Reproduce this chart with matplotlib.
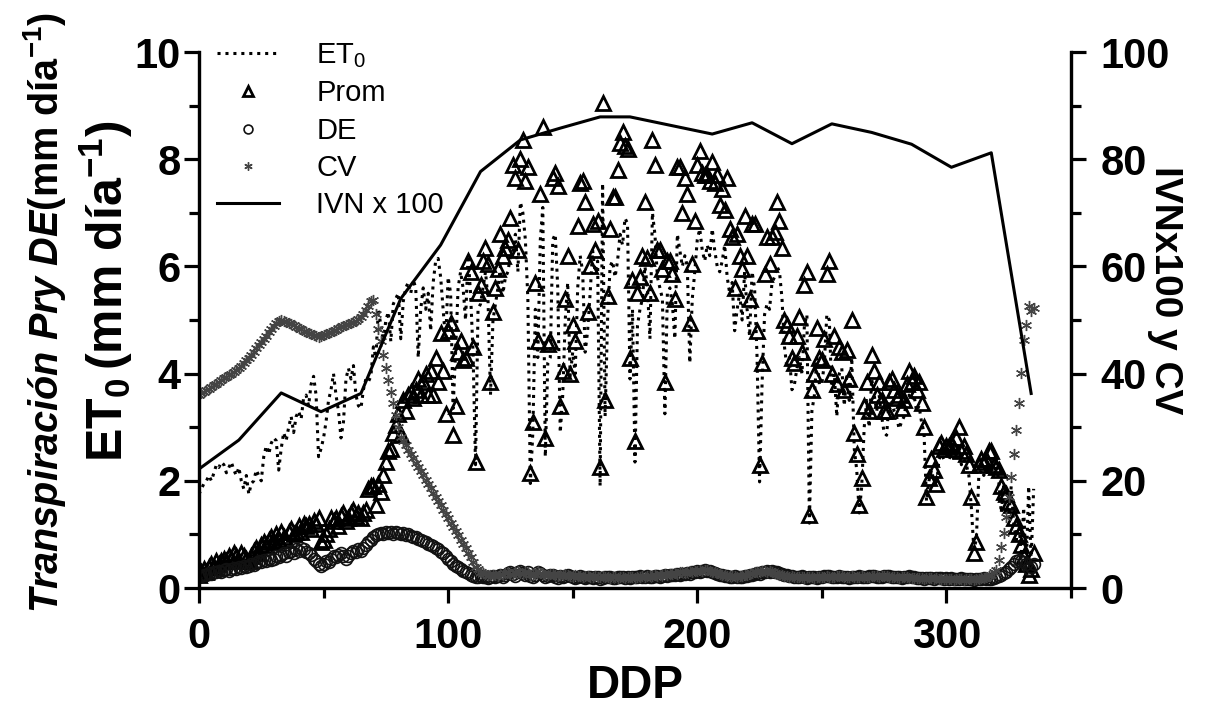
import numpy as np
import matplotlib.pyplot as plt

plt.rcParams['font.family'] = ['Liberation Sans', 'DejaVu Sans']
plt.rcParams['mathtext.fontset'] = 'custom'
plt.rcParams['mathtext.rm'] = 'Liberation Sans'
plt.rcParams['mathtext.it'] = 'Liberation Sans:italic'
plt.rcParams['mathtext.bf'] = 'Liberation Sans:bold'
plt.rcParams['mathtext.bfit'] = 'Liberation Sans:italic:bold'

# dias despues de poda (DDP), un valor por dia
days = np.arange(336)

# ET0 (mm dia-1)
et0 = [
    1.75, 1.85, 1.95, 2.0, 2.1, 2.0, 2.15, 2.3, 2.25, 2.35,
    2.3, 2.15, 2.25, 2.35, 2.2, 2.1, 2.25, 2.0, 1.85, 2.1,
    1.75, 1.95, 2.0, 2.2, 2.1, 2.0, 2.45, 2.65, 2.5, 2.7,
    2.8, 2.75, 2.2, 2.6, 2.9, 2.75, 3.0, 3.2, 2.9, 3.2,
    3.3, 3.15, 3.55, 3.6, 3.4, 3.8, 3.95, 3.6, 2.45, 2.6,
    2.8, 3.1, 3.5, 3.7, 4.0, 3.6, 3.3, 2.8, 3.1, 3.9,
    4.1, 3.9, 4.15, 3.6, 3.4, 3.35, 3.7, 3.9, 3.85, 3.95,
    4.5, 4.3, 5.2, 4.9, 4.6, 5.0, 5.15, 4.6, 5.3, 5.4,
    5.5, 4.65, 5.35, 5.6, 5.7, 5.5, 5.75, 5.6, 4.3, 5.2,
    5.6, 5.2, 5.5, 4.8, 5.7, 6.1, 6.15, 5.8, 5.2, 4.6,
    5.8, 5.5, 3.35, 4.4, 5.6, 5.9, 5.6, 5.0, 6.2, 5.5,
    4.4, 2.3, 5.2, 5.3, 5.6, 5.9, 5.4, 3.6, 5.0, 5.3,
    5.6, 6.0, 5.5, 5.8, 5.9, 6.2, 6.3, 6.6, 5.9, 7.2,
    7.0, 6.5, 5.4, 1.95, 2.9, 5.2, 4.3, 6.5, 7.1, 2.45,
    4.2, 4.3, 6.5, 6.6, 5.6, 2.9, 3.6, 5.0, 5.7, 3.95,
    4.4, 4.0, 5.6, 6.2, 5.9, 4.4, 4.8, 5.5, 6.3, 5.9,
    6.1, 1.9, 7.55, 3.2, 5.0, 6.0, 6.1, 5.8, 6.1, 6.6,
    6.4, 6.9, 6.8, 3.9, 5.2, 2.35, 4.9, 5.2, 5.4, 6.0,
    5.6, 4.65, 7.0, 6.6, 5.8, 5.6, 5.4, 3.25, 5.5, 5.6,
    5.3, 4.65, 6.6, 6.3, 6.0, 6.2, 6.0, 4.2, 5.4, 5.9,
    6.5, 6.7, 6.3, 6.1, 6.4, 6.2, 6.7, 6.3, 6.0, 5.9,
    6.1, 6.4, 5.8, 5.5, 5.7, 4.8, 5.2, 5.5, 5.0, 5.9,
    5.2, 4.7, 5.9, 5.6, 4.3, 1.98, 3.8, 5.1, 5.3, 5.2,
    5.7, 5.8, 6.0, 5.9, 5.4, 4.5, 4.1, 4.3, 3.7, 3.8,
    4.1, 4.3, 4.0, 4.9, 5.1, 1.21, 3.3, 3.6, 4.3, 3.8,
    3.8, 4.2, 5.1, 5.0, 3.6, 4.0, 3.2, 4.0, 4.1, 3.4,
    4.0, 3.5, 4.3, 2.6, 2.2, 1.4, 1.9, 3.0, 3.5, 3.0,
    3.9, 3.6, 3.3, 3.6, 3.2, 2.9, 2.85, 3.5, 3.5, 3.3,
    3.2, 2.97, 3.1, 3.2, 3.5, 3.6, 3.5, 3.6, 3.3, 3.4,
    3.1, 2.9, 1.62, 2.0, 2.2, 2.0, 1.9, 2.4, 2.5, 2.4,
    2.5, 2.4, 2.5, 2.4, 2.6, 2.7, 2.3, 2.4, 2.3, 2.1,
    1.5, 0.73, 0.9, 2.1, 2.2, 2.1, 2.2, 2.3, 2.3, 2.1,
    2.3, 2.0, 1.4, 1.9, 1.7, 1.3, 1.9, 1.2, 0.9, 1.3,
    0.6, 1.5, 0.3, 1.9, 0.5, 1.85]

# transpiracion promedio (mm dia-1)
prom = [
    0.25, 0.3, 0.35, 0.3, 0.4, 0.45, 0.4, 0.5, 0.45, 0.5,
    0.55, 0.5, 0.6, 0.55, 0.65, 0.6, 0.5, 0.65, 0.6, 0.55,
    0.5, 0.6, 0.7, 0.75, 0.65, 0.8, 0.85, 0.8, 0.9, 0.95,
    0.85, 1.0, 0.9, 1.05, 0.95, 0.9, 1.05, 1.1, 1.0, 1.05,
    1.15, 1.05, 1.2, 1.15, 1.2, 1.1, 1.25, 1.2, 1.3, 0.85,
    0.9, 1.0, 1.1, 1.3, 1.25, 1.3, 1.15, 1.35, 1.4, 1.25,
    1.3, 1.4, 1.45, 1.35, 1.4, 1.3, 1.4, 1.45, 1.85, 1.9,
    1.9, 1.55, 1.95, 1.8, 2.1, 2.35, 2.55, 2.6, 2.9, 3.05,
    3.25, 2.85, 3.5, 3.3, 3.6, 3.65, 3.55, 3.7, 3.9, 3.6,
    3.85, 4.0, 3.6, 4.05, 3.6, 4.3, 3.85, 4.75, 4.05, 3.25,
    4.8, 4.95, 2.85, 3.4, 4.4, 4.6, 4.25, 4.3, 6.1, 5.9,
    4.5, 2.35, 5.5, 5.65, 6.1, 6.35, 6.05, 3.85, 5.15, 5.6,
    5.95, 6.6, 6.2, 6.35, 6.5, 6.9, 7.9, 7.65, 6.3, 8.0,
    8.35, 7.6, 7.85, 2.15, 3.1, 5.7, 4.6, 7.35, 8.6, 2.8,
    4.55, 4.6, 7.65, 7.75, 7.5, 3.4, 4.05, 5.4, 6.2, 4.0,
    4.9, 4.6, 6.75, 7.55, 7.6, 7.2, 5.15, 6.0, 6.8, 6.3,
    6.85, 2.25, 9.05, 3.5, 5.45, 6.7, 7.3, 7.3, 7.8, 8.3,
    8.5, 8.25, 8.2, 4.3, 5.75, 2.75, 5.5, 5.8, 6.2, 7.2,
    6.15, 5.5, 8.35, 7.9, 6.3, 6.3, 5.95, 3.85, 6.1, 6.1,
    5.85, 5.4, 7.85, 7.85, 7.0, 7.65, 7.35, 4.95, 6.05, 6.85,
    7.9, 8.15, 7.75, 7.7, 7.7, 7.6, 7.95, 7.55, 7.7, 7.15,
    7.45, 7.05, 7.65, 6.7, 6.55, 5.6, 6.6, 6.2, 5.95, 6.95,
    6.2, 5.4, 6.8, 6.8, 4.8, 2.3, 4.2, 5.85, 6.55, 6.05,
    6.55, 6.65, 7.2, 6.85, 6.35, 5.0, 4.9, 4.7, 4.3, 4.2,
    4.7, 5.05, 4.4, 5.65, 5.9, 1.37, 3.7, 4.0, 4.85, 4.3,
    4.25, 4.65, 5.85, 6.1, 4.0, 4.7, 3.8, 4.5, 4.4, 3.7,
    4.45, 3.9, 5.0, 2.9, 2.5, 1.55, 2.05, 3.4, 3.85, 3.3,
    4.35, 4.05, 3.6, 3.85, 3.5, 3.3, 3.3, 3.85, 3.9, 3.7,
    3.55, 3.6, 3.35, 3.5, 3.8, 4.05, 3.85, 3.95, 3.7, 3.85,
    3.45, 3.0, 1.7, 2.05, 2.4, 2.2, 1.95, 2.65, 2.7, 2.6,
    2.65, 2.65, 2.7, 2.6, 2.8, 3.0, 2.55, 2.65, 2.5, 2.3,
    1.7, 0.65, 0.85, 2.3, 2.4, 2.35, 2.4, 2.55, 2.55, 2.3,
    2.25, 2.2, 1.9, 1.8, 1.75, 1.6, 1.55, 1.3, 1.15, 1.0,
    0.8, 0.6, 0.45, 0.25, 0.35, 0.65]

# desviacion estandar (mm dia-1)
de = [
    0.2, 0.22, 0.25, 0.25, 0.28, 0.27, 0.3, 0.3, 0.32, 0.3,
    0.33, 0.35, 0.32, 0.35, 0.38, 0.36, 0.4, 0.38, 0.42, 0.4,
    0.42, 0.45, 0.43, 0.47, 0.5, 0.48, 0.52, 0.5, 0.55, 0.53,
    0.55, 0.6, 0.58, 0.62, 0.65, 0.6, 0.68, 0.7, 0.66, 0.72,
    0.7, 0.75, 0.72, 0.68, 0.65, 0.62, 0.55, 0.5, 0.45, 0.42,
    0.45, 0.5, 0.48, 0.55, 0.6, 0.58, 0.62, 0.65, 0.6, 0.55,
    0.6, 0.65, 0.7, 0.68, 0.72, 0.7, 0.75, 0.8, 0.85, 0.9,
    0.95, 0.98, 1.0, 1.02, 1.0, 1.05, 1.03, 1.05, 1.0, 1.04,
    1.02, 1.0, 1.03, 0.98, 1.0, 0.97, 0.95, 0.96, 0.92, 0.9,
    0.88, 0.85, 0.83, 0.8, 0.78, 0.75, 0.72, 0.68, 0.65, 0.6,
    0.55, 0.5, 0.45, 0.42, 0.4, 0.35, 0.32, 0.3, 0.28, 0.25,
    0.22, 0.2, 0.2, 0.22, 0.2, 0.2, 0.18, 0.2, 0.22, 0.2,
    0.22, 0.25, 0.2, 0.24, 0.28, 0.3, 0.26, 0.22, 0.3, 0.32,
    0.28, 0.25, 0.3, 0.22, 0.2, 0.25, 0.3, 0.28, 0.24, 0.2,
    0.22, 0.25, 0.24, 0.2, 0.18, 0.22, 0.2, 0.23, 0.25, 0.22,
    0.2, 0.18, 0.2, 0.22, 0.2, 0.19, 0.21, 0.2, 0.18, 0.2,
    0.2, 0.17, 0.19, 0.2, 0.21, 0.2, 0.19, 0.18, 0.2, 0.21,
    0.2, 0.19, 0.2, 0.18, 0.2, 0.21, 0.2, 0.22, 0.21, 0.2,
    0.22, 0.2, 0.21, 0.23, 0.22, 0.2, 0.22, 0.24, 0.23, 0.25,
    0.24, 0.25, 0.26, 0.25, 0.27, 0.26, 0.28, 0.27, 0.29, 0.3,
    0.31, 0.3, 0.32, 0.33, 0.32, 0.31, 0.3, 0.28, 0.27, 0.25,
    0.24, 0.22, 0.23, 0.21, 0.2, 0.22, 0.2, 0.21, 0.2, 0.22,
    0.23, 0.24, 0.25, 0.27, 0.28, 0.26, 0.29, 0.3, 0.31, 0.3,
    0.32, 0.3, 0.29, 0.28, 0.27, 0.25, 0.24, 0.23, 0.22, 0.2,
    0.21, 0.2, 0.22, 0.2, 0.19, 0.2, 0.21, 0.2, 0.19, 0.2,
    0.21, 0.22, 0.23, 0.22, 0.21, 0.2, 0.21, 0.22, 0.21, 0.2,
    0.2, 0.19, 0.2, 0.21, 0.2, 0.22, 0.21, 0.2, 0.21, 0.22,
    0.23, 0.22, 0.21, 0.2, 0.21, 0.22, 0.23, 0.22, 0.21, 0.2,
    0.21, 0.2, 0.19, 0.2, 0.21, 0.22, 0.21, 0.2, 0.19, 0.18,
    0.18, 0.17, 0.18, 0.19, 0.18, 0.17, 0.18, 0.19, 0.18, 0.17,
    0.18, 0.17, 0.18, 0.17, 0.16, 0.17, 0.18, 0.17, 0.16, 0.17,
    0.16, 0.15, 0.17, 0.16, 0.17, 0.18, 0.17, 0.16, 0.17, 0.18,
    0.2, 0.22, 0.25, 0.28, 0.3, 0.35, 0.4, 0.45, 0.5, 0.52,
    0.5, 0.48, 0.45, 0.35, 0.4, 0.45]

# coeficiente de variacion (%)
cv = [
    36.0, 36.3, 36.6, 36.9, 37.2, 37.5, 37.8, 38.1, 38.4, 38.8,
    39.1, 39.4, 39.7, 40.0, 40.3, 40.6, 41.0, 41.5, 42.0, 42.5,
    43.0, 43.5, 44.1, 44.7, 45.3, 45.9, 46.5, 47.1, 47.7, 48.3,
    48.9, 49.4, 49.8, 50.0, 49.8, 49.6, 49.4, 49.2, 49.0, 48.7,
    48.5, 48.3, 48.0, 47.8, 47.6, 47.4, 47.2, 47.0, 46.8, 47.0,
    47.2, 47.4, 47.6, 47.8, 48.0, 48.2, 48.5, 48.7, 48.9, 49.1,
    49.3, 49.5, 49.7, 49.9, 50.2, 50.6, 51.2, 51.9, 52.7, 53.5,
    53.7, 51.2, 48.4, 46.0, 43.5, 41.0, 38.8, 36.6, 34.5, 32.3,
    30.0, 28.2, 27.4, 26.6, 25.8, 25.0, 24.2, 23.4, 22.6, 21.8,
    21.0, 20.2, 19.4, 18.6, 17.8, 17.0, 16.2, 15.4, 14.6, 13.8,
    13.0, 12.2, 11.4, 10.6, 9.8, 9.0, 8.2, 7.4, 6.6, 5.8,
    4.8, 4.0, 3.5, 3.0, 2.8, 2.6, 2.5, 2.5, 2.4, 2.5,
    2.3, 2.6, 2.4, 2.8, 3.0, 2.7, 2.5, 2.9, 3.1, 2.8,
    2.6, 2.9, 3.0, 2.5, 2.4, 2.7, 3.1, 2.8, 2.6, 2.4,
    2.5, 2.7, 2.6, 2.4, 2.3, 2.5, 2.4, 2.6, 2.5, 2.3,
    2.2, 2.4, 2.3, 2.2, 2.1, 2.3, 2.2, 2.1, 2.0, 2.2,
    2.1, 2.0, 2.2, 2.1, 2.0, 1.9, 2.1, 2.0, 1.9, 2.0,
    2.0, 1.9, 2.0, 2.1, 2.0, 1.9, 2.0, 2.1, 2.2, 2.1,
    2.2, 2.3, 2.2, 2.4, 2.3, 2.5, 2.4, 2.6, 2.5, 2.7,
    2.6, 2.8, 2.7, 2.9, 3.0, 2.8, 3.0, 3.1, 3.0, 3.2,
    3.1, 3.3, 3.2, 3.4, 3.3, 3.2, 3.0, 2.9, 2.8, 2.6,
    2.5, 2.4, 2.3, 2.2, 2.3, 2.2, 2.1, 2.2, 2.3, 2.4,
    2.5, 2.6, 2.8, 2.9, 3.0, 2.9, 3.1, 3.2, 3.0, 3.1,
    3.0, 2.8, 2.7, 2.5, 2.4, 2.3, 2.2, 2.1, 2.2, 2.1,
    2.0, 2.1, 2.0, 1.9, 2.0, 2.1, 2.0, 1.9, 2.0, 2.1,
    2.0, 2.1, 2.2, 2.1, 2.0, 2.1, 2.2, 2.3, 2.2, 2.1,
    2.0, 2.1, 2.2, 2.1, 2.0, 2.1, 2.2, 2.1, 2.0, 2.1,
    2.2, 2.3, 2.2, 2.1, 2.2, 2.3, 2.2, 2.1, 2.0, 2.1,
    2.0, 1.9, 2.0, 2.1, 2.0, 1.9, 1.8, 1.9, 1.8, 1.9,
    1.8, 1.7, 1.8, 1.9, 1.8, 1.7, 1.8, 1.7, 1.6, 1.7,
    1.6, 1.7, 1.6, 1.5, 1.6, 1.7, 1.6, 1.5, 1.6, 1.7,
    1.6, 1.5, 1.6, 1.7, 1.8, 1.9, 2.0, 2.2, 2.5, 2.9,
    3.4, 5.2, 7.7, 10.2, 13.3, 17.0, 20.7, 25.0, 29.5, 34.6,
    40.2, 46.3, 49.0, 52.6, 51.6, 52.3]

# IVN x 100 (compuestos de 16 dias)
ivn_day = [0, 16, 33, 49, 65, 81, 97, 113, 129, 145, 161, 173, 206,
           222, 238, 254, 270, 286, 302, 318, 334]
ivn = [22.2, 27.6, 36.4, 32.9, 36.3, 54.0, 64.0, 77.7, 83.6, 85.8, 87.9,
       87.9, 84.7, 86.8, 82.9, 86.6, 85.0, 82.8, 78.5, 81.2, 36.3]

fig = plt.figure(figsize=(12.11, 7.06), dpi=100)
ax = fig.add_axes([0.1643, 0.1671, 0.7201, 0.7592])
ax2 = ax.twinx()

l_et0, = ax.plot(days, et0, color='black', ls=(0, (1, 1.6)), lw=2.2)
l_prom, = ax.plot(days, prom, ls='none', marker='^', ms=10, mfc='none',
                  mec='black', mew=2.0)
l_de, = ax.plot(days, de, ls='none', marker='o', ms=8.5, mfc='none',
                mec='#111111', mew=1.2)
l_cv, = ax2.plot(days, cv, ls='none', marker=(6, 2, 0), ms=8,
                 color='#444444', mew=1.0)
l_ivn, = ax2.plot(ivn_day, ivn, color='black', lw=2.2)

ax.set_xlim(0, 350)
ax.set_ylim(0, 10)
ax2.set_ylim(0, 100)

ax.set_xticks([0, 100, 200, 300])
ax.set_xticks([50, 150, 250, 350], minor=True)
ax.set_yticks([0, 2, 4, 6, 8, 10])
ax.set_yticks([1, 3, 5, 7, 9], minor=True)
ax2.set_yticks([0, 20, 40, 60, 80, 100])
ax2.set_yticks([10, 30, 50, 70, 90], minor=True)

for a in (ax, ax2):
    a.spines['top'].set_visible(False)
    for s in ('left', 'bottom', 'right'):
        a.spines[s].set_linewidth(2.3)
    a.tick_params(which='major', direction='out', length=11, width=2.3)
    a.tick_params(which='minor', direction='out', length=7, width=2.3)

ax.tick_params(axis='x', pad=10)
ax.tick_params(axis='y', pad=2)
ax2.tick_params(axis='y', pad=10)
for lab in ax.get_xticklabels() + ax.get_yticklabels() + ax2.get_yticklabels():
    lab.set_fontsize(30)
    lab.set_fontweight('bold')

fig.text(0.5244, 0.029, 'DDP', ha='center', va='center',
         fontsize=33, fontweight='bold')
fig.text(0.037, 0.557,
         r'$\mathbfit{Transpiración\ Pry\ DE}\mathbf{(mm\ día^{-1})}$',
         rotation=90, ha='center', va='center', fontsize=28.5)
fig.text(0.088, 0.588, r'$\mathbf{ET_0\,(mm\ día^{-1})}$',
         rotation=90, ha='center', va='center', fontsize=36)
fig.text(0.962, 0.589, 'IVNx100 y CV', rotation=270, ha='center',
         va='center', fontsize=28, fontweight='bold')

ax2.legend([l_et0, l_prom, l_de, l_cv, l_ivn],
           [r'ET$_0$', 'Prom', 'DE', 'CV', 'IVN x 100'],
           loc='upper left', bbox_to_anchor=(0.021, 1.02), frameon=False,
           fontsize=21, handlelength=2.1, handletextpad=1.3,
           labelspacing=0.32, borderpad=0, borderaxespad=0,
           markerscale=0.75)

fig.savefig('out.png', dpi=100)
